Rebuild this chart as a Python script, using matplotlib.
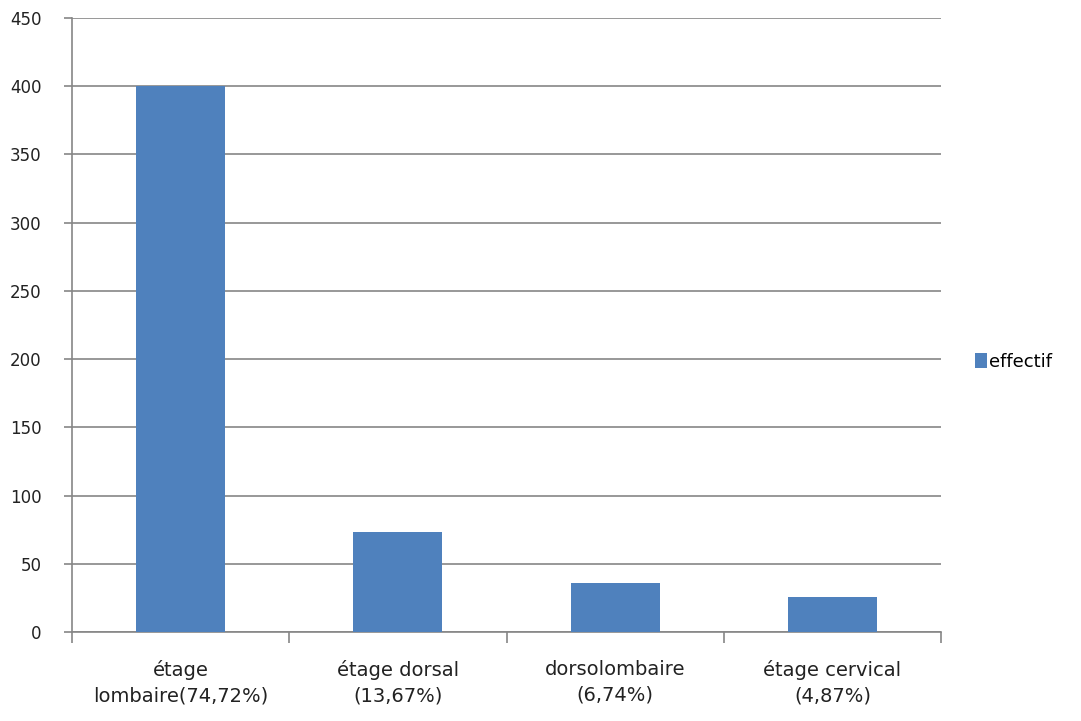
import matplotlib
matplotlib.use("Agg")
import matplotlib.pyplot as plt
import numpy as np

# ---- donnees ----
categories = ["étage\nlombaire(74,72%)", "étage dorsal\n(13,67%)",
              "dorsolombaire\n(6,74%)", "étage cervical\n(4,87%)"]
effectif = [400, 73, 36, 26]
yticks = [0, 50, 100, 150, 200, 250, 300, 350, 400, 450]

BAR = "#4F81BD"
GRID = "#868686"

fig = plt.figure(figsize=(10.81, 7.21), dpi=100)
ax = fig.add_axes([0.0666, 0.1234, 0.804, 0.8516])

x = np.arange(len(categories))
ax.bar(x, effectif, width=0.41, color=BAR, zorder=3, label="effectif")

ax.set_ylim(0, 450)
ax.set_xlim(-0.5, len(categories) - 0.5)
ax.set_yticks(yticks)
ax.set_yticklabels([str(v) for v in yticks], fontsize=12, color="#222222")
ax.yaxis.grid(True, color=GRID, lw=1.2, zorder=0)

# ticks x aux frontieres des categories, labels au centre
ax.set_xticks(np.arange(-0.5, len(categories), 1.0))
ax.set_xticklabels([])
ax.set_xticks(x, minor=True)
ax.set_xticklabels(categories, minor=True, fontsize=14, color="#222222",
                   linespacing=1.45)
ax.tick_params(axis="x", which="major", length=8, color=GRID, width=1.2)
ax.tick_params(axis="x", which="minor", length=0, pad=20)
ax.tick_params(axis="y", length=6, color=GRID, width=1.2, pad=16)

for s in ["top", "right"]:
    ax.spines[s].set_visible(False)
for s in ["left", "bottom"]:
    ax.spines[s].set_color(GRID)
    ax.spines[s].set_linewidth(1.2)

ax.legend(loc="center left", bbox_to_anchor=(1.02, 0.44), frameon=False,
          handlelength=0.7, handleheight=0.9, handletextpad=0.1, fontsize=13)

fig.savefig("out.png", dpi=100)
